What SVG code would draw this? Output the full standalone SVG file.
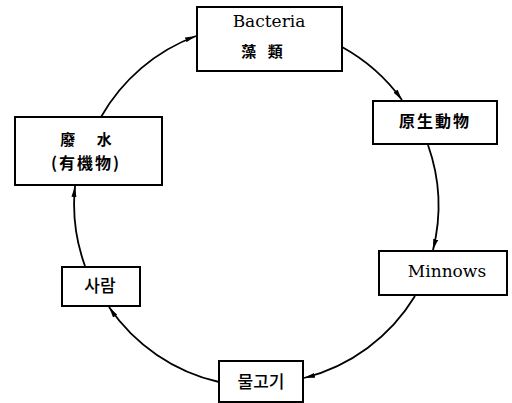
<svg xmlns="http://www.w3.org/2000/svg" width="512" height="403" viewBox="0 0 512 403">
<style>
.box{fill:#fff;stroke:#000;stroke-width:2}
.en{font-family:"DejaVu Serif","Liberation Serif",serif;font-size:17px;fill:#000}
.cj{font-family:"Noto Sans CJK TC","Noto Sans CJK JP",sans-serif;font-weight:bold;fill:#000}
.ko{font-family:"Noto Sans CJK KR",sans-serif;font-size:17px;font-weight:500;fill:#000}
.con path{fill:none;stroke:#000;stroke-width:1.8;marker-end:url(#ah)}
</style>
<defs>
<marker id="ah" markerUnits="userSpaceOnUse" markerWidth="12" markerHeight="6" refX="11" refY="3" orient="auto">
<path d="M0,0.5 L11,3 L0,5.5 z" fill="#000"/>
</marker>
</defs>
<rect width="512" height="403" fill="#fff"/>
<g id="connectors" class="con">
<path d="M101,117 A182,182 0 0 1 196,36"/>
<path d="M342,47 A182,182 0 0 1 402,100"/>
<path d="M428,145 A182,182 0 0 1 433,250"/>
<path d="M415,296 A182,182 0 0 1 304,378"/>
<path d="M219,382 A182,182 0 0 1 109,307"/>
<path d="M85,266 A182,182 0 0 1 75,186"/>
</g>
<g id="bacteria">
<rect class="box" x="197" y="7" width="145" height="64"/>
<text class="en" x="269" y="27" text-anchor="middle">Bacteria</text>
<text class="cj" x="262" y="57" font-size="15" text-anchor="middle" word-spacing="8">藻 類</text>
</g>
<g id="protozoa">
<rect class="box" x="373" y="101" width="124" height="43"/>
<text class="cj" x="435" y="127" font-size="16" text-anchor="middle" letter-spacing="2">原生動物</text>
</g>
<g id="minnows">
<rect class="box" x="379" y="251" width="128" height="44"/>
<text class="en" x="447" y="277" text-anchor="middle">Minnows</text>
</g>
<g id="fish">
<rect class="box" x="219" y="361" width="84" height="41"/>
<text class="ko" x="261" y="388" text-anchor="middle">물고기</text>
</g>
<g id="person">
<rect class="box" x="62" y="267" width="78" height="39"/>
<text class="ko" x="100" y="292" text-anchor="middle">사람</text>
</g>
<g id="wastewater">
<rect class="box" x="15" y="117" width="147" height="68"/>
<text class="cj" x="86" y="145" font-size="15" text-anchor="middle" word-spacing="18">廢 水</text>
<text class="cj" x="86" y="169" font-size="16" text-anchor="middle" letter-spacing="2">(有機物)</text>
</g>
</svg>
